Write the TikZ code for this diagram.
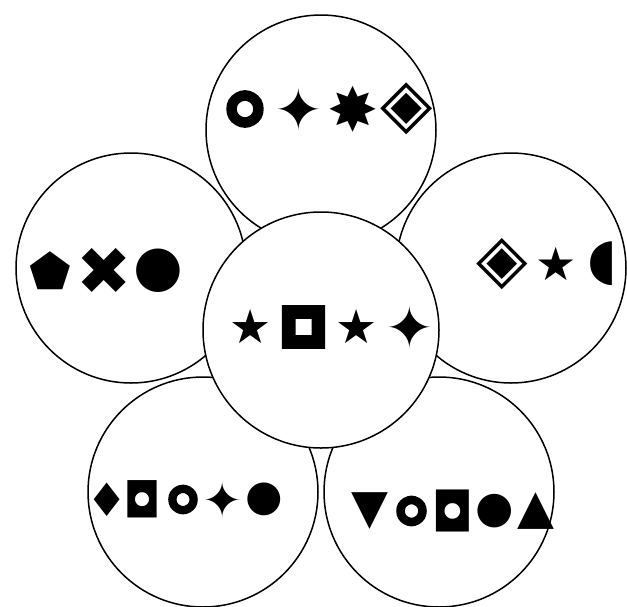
\documentclass[tikz,border=0pt]{standalone}
\usepackage{fontspec}
\newfontfamily\symf{DejaVu Sans}
\newfontfamily\symring[FakeBold=22]{DejaVu Sans}
\newfontfamily\symsq[FakeBold=27]{DejaVu Sans}
% \gs[font]{box width}{font size}{glyph}
\newcommand{\gs}[4][\symf]{\makebox[#2pt]{$\vcenter{\hbox{#1\fontsize{#3}{#3}\selectfont #4}}$}}
\begin{document}
\begin{tikzpicture}[x=1pt,y=-1pt,
  petal/.style={circle,draw=black,line width=1.5pt,minimum size=230pt,inner sep=0pt,outer sep=0pt},
  core/.style={circle,draw=black,fill=white,line width=1.5pt,minimum size=236pt,inner sep=0pt,outer sep=0pt},
  symrow/.style={inner sep=0pt,font=\symf}]
\useasboundingbox (0,0) rectangle (627,606);
% petals
\node[petal] (ptop) at (321,130) {};
\node[petal] (pleft) at (131,268) {};
\node[petal] (pright) at (511,268) {};
\node[petal] (pbl) at (203,492) {};
\node[petal] (pbr) at (439,492) {};
% centre
\node[core] (core) at (321,330) {};
% symbols
\node[symrow] (ttop) at (326,109) {\gs[\symring]{54}{38}{○}\gs{54}{58}{✦}\gs{54}{61}{✸}\gs{54}{68}{◈}};
\node[symrow] (tleft) at (104,271) {\gs{54}{48}{⬟}\gs{54}{66}{✖}\gs{54}{57}{●}};
\node[symrow] (tcore) at (330,327) {\gs{53}{47}{★}\gs[\symsq]{53}{42}{□}\gs{53}{47}{★}\gs{53}{58}{✦}};
\node[symrow] (tright) at (549,264) {\gs{54}{67}{◈}\gs{54}{46}{★}\gs{40}{57}{◖}};
\node[symrow] (tbl) at (189,499.5) {\gs{34}{46}{♦}\gs{36}{48}{◘}\gs[\symring]{46}{30}{○}\gs{34}{48}{✦}\gs{48}{43}{●}};
\node[symrow] (tbr) at (453,511) {\gs{41.5}{48}{▼}\gs[\symring]{41.5}{31}{○}\gs{41.5}{54}{◘}\gs{41.5}{44}{●}\gs{41.5}{48}{▲}};
\end{tikzpicture}
\end{document}
